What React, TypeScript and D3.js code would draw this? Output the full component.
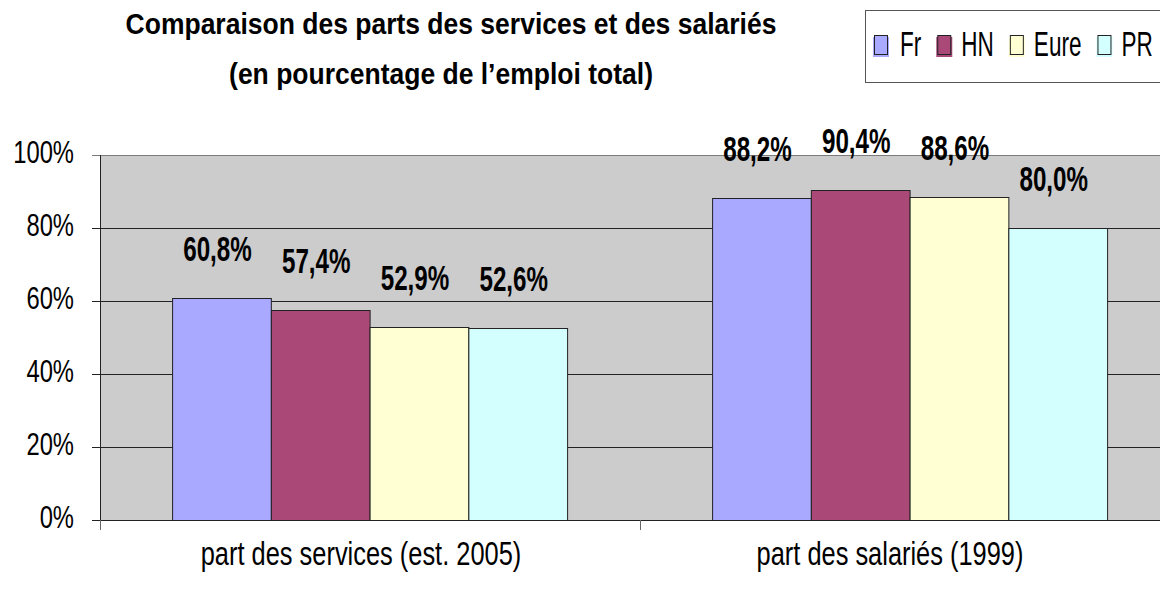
import React, { useEffect, useRef } from 'react';
import * as d3 from 'd3';

const categories = ['part des services (est. 2005)', 'part des salariés (1999)'];
const seriesNames = ['Fr', 'HN', 'Eure', 'PR'];
const frValues = [60.8, 88.2];
const hnValues = [57.4, 90.4];
const eureValues = [52.9, 88.6];
const prValues = [52.6, 80.0];
const yTicks = [0, 20, 40, 60, 80, 100];
const titleLines = ['Comparaison des parts des services et des salariés', '(en pourcentage de l’emploi total)'];

const colors = ['#A9A9FF', '#AA4977', '#FFFFD3', '#D3FFFF'];
const SANS = '"Liberation Sans", Arial, sans-serif';
// no narrow font installed: squeeze Liberation Sans horizontally
const NARROW_X = 0.82;

export default function App() {
  const chartRef = useRef<HTMLDivElement>(null);

  useEffect(() => {
    const seriesValues = [frValues, hnValues, eureValues, prValues];
    const W = 1160;
    const H = 591;

    d3.select(chartRef.current).select('svg').remove();

    const svg = d3
      .select(chartRef.current)
      .append('svg')
      .attr('width', W)
      .attr('height', H)
      .style('display', 'block')
      .style('background', '#fff');

    const left = 100;
    const right = 1180;
    const top = 155;
    const bottom = 520;

    const x0 = d3.scaleBand<string>().domain(categories).range([left, right]).padding(0);
    const bw = x0.bandwidth();
    const x1 = d3
      .scaleBand<string>()
      .domain(seriesNames)
      .range([bw * 0.1335, bw * 0.865])
      .padding(0);
    const y = d3.scaleLinear().domain([0, 100]).range([bottom, top]);

    const narrow = (x: number, yy: number, sy = 1) => `translate(${x},${yy}) scale(${NARROW_X},${sy})`;

    // plot area
    svg
      .append('rect')
      .attr('x', left)
      .attr('y', top)
      .attr('width', right - left)
      .attr('height', bottom - top)
      .attr('fill', '#CCCCCC');

    // gridlines
    svg
      .append('g')
      .selectAll('line')
      .data(yTicks)
      .join('line')
      .attr('x1', left - 8)
      .attr('x2', right)
      .attr('y1', d => Math.round(y(d)) + 0.5)
      .attr('y2', d => Math.round(y(d)) + 0.5)
      .attr('stroke', d => (d === 100 ? '#7a7a7a' : '#222'))
      .attr('stroke-width', 1);

    // y axis line
    svg
      .append('line')
      .attr('x1', left + 0.5)
      .attr('x2', left + 0.5)
      .attr('y1', top)
      .attr('y2', bottom + 10)
      .attr('stroke', '#222');

    // category ticks
    svg
      .append('g')
      .selectAll('line')
      .data([left, left + bw, right])
      .join('line')
      .attr('x1', d => d + 0.5)
      .attr('x2', d => d + 0.5)
      .attr('y1', bottom)
      .attr('y2', bottom + 10)
      .attr('stroke', '#666');

    // y tick labels
    svg
      .append('g')
      .selectAll('text')
      .data(yTicks)
      .join('text')
      .attr('transform', d => narrow(74, y(d) + 8, 1.05))
      .attr('text-anchor', 'end')
      .style('font-family', SANS)
      .style('font-size', '29px')
      .attr('fill', '#000')
      .text(d => `${d}%`);

    // bars
    const groups = svg
      .append('g')
      .selectAll('g')
      .data(categories)
      .join('g')
      .attr('transform', d => `translate(${x0(d)},0)`);

    groups
      .selectAll('rect')
      .data((_, ci) => seriesNames.map((s, si) => ({ s, si, v: seriesValues[si][ci] })))
      .join('rect')
      .attr('x', d => (x1(d.s) as number) + 0.5)
      .attr('y', d => Math.round(y(d.v)) + 0.5)
      .attr('width', x1.bandwidth())
      .attr('height', d => bottom - Math.round(y(d.v)))
      .attr('fill', d => colors[d.si])
      .attr('stroke', '#222')
      .attr('stroke-width', 1);

    // value labels
    groups
      .selectAll('text')
      .data((_, ci) => seriesNames.map((s, si) => ({ s, si, v: seriesValues[si][ci] })))
      .join('text')
      .attr('transform', d => narrow((x1(d.s) as number) + x1.bandwidth() / 2 - 4, y(d.v) - 37, 1.2))
      .attr('text-anchor', 'middle')
      .style('font-family', SANS)
      .style('font-weight', 'bold')
      .style('font-size', '29.5px')
      .text(d => d3.format('.1f')(d.v).replace('.', ',') + '%');

    // category labels (Excel sets them a little left of the band centre)
    svg
      .append('g')
      .selectAll('text')
      .data(categories)
      .join('text')
      .attr('transform', (d, i) => narrow((x0(d) as number) + bw / 2 - (i === 0 ? 9 : 20), 565, 1.05))
      .attr('text-anchor', 'middle')
      .style('font-family', SANS)
      .style('font-size', '31px')
      .text(d => d);

    // title
    svg
      .append('g')
      .selectAll('text')
      .data(titleLines)
      .join('text')
      .attr('transform', (d, i) => `translate(${i === 0 ? 451 : 441},${i === 0 ? 34 : 84}) scale(1,1.12)`)
      .attr('text-anchor', 'middle')
      .style('font-family', SANS)
      .style('font-weight', 'bold')
      .style('font-size', '26.5px')
      .text(d => d);

    // legend
    const legend = svg.append('g');
    legend
      .append('rect')
      .attr('x', 865.5)
      .attr('y', 10.5)
      .attr('width', 400)
      .attr('height', 72)
      .attr('fill', '#fff')
      .attr('stroke', '#555');

    let lx = 873;
    seriesNames.forEach((name, i) => {
      legend
        .append('rect')
        .attr('x', lx)
        .attr('y', 37)
        .attr('width', 16)
        .attr('height', 20)
        .attr('fill', colors[i]);
      legend
        .append('rect')
        .attr('x', lx + 1.5)
        .attr('y', 35.5)
        .attr('width', 13)
        .attr('height', 19)
        .attr('fill', colors[i])
        .attr('stroke', '#222');
      const t = legend
        .append('text')
        .attr('transform', narrow(lx + (i === 0 ? 27 : 25), 56, 1.28))
        .style('font-family', SANS)
        .style('font-size', '27.5px')
        .text(name);
      const tw = (t.node() as SVGTextElement).getComputedTextLength() * NARROW_X;
      lx += (i === 0 ? 27 : 25) + tw + 15;
    });
  }, []);

  return (
    <div style={{ position: 'absolute', left: 0, top: 0 }}>
      <div ref={chartRef}></div>
    </div>
  );
}
